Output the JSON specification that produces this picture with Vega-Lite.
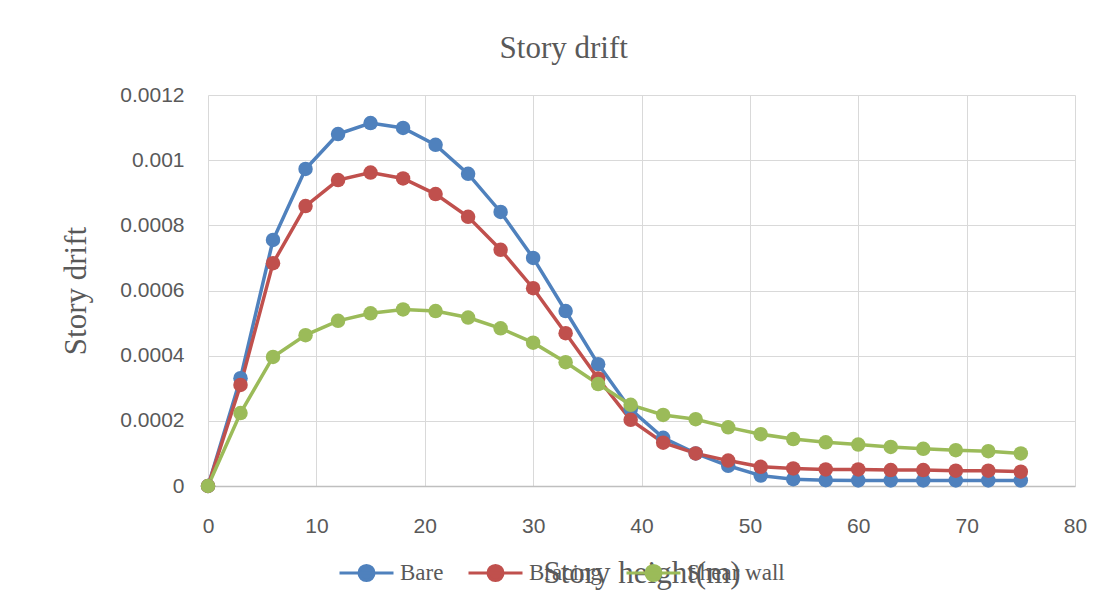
{
  "$schema": "https://vega.github.io/schema/vega-lite/v6.json",
  "width": 867,
  "height": 391,
  "autosize": {"type": "none"},
  "padding": {"left": 208, "top": 95, "right": 29, "bottom": 112},
  "background": "white",
  "title": {"text": "Story drift", "font": "Liberation Serif", "fontSize": 31, "fontWeight": "normal", "color": "#595959", "offset": 19, "anchor": "middle", "frame": "bounds", "dx": -10},
  "data": {"values": [
    {"height": 0, "drift": 0, "series": "Bare"},
    {"height": 3, "drift": 0.000331, "series": "Bare"},
    {"height": 6, "drift": 0.000755, "series": "Bare"},
    {"height": 9, "drift": 0.000973, "series": "Bare"},
    {"height": 12, "drift": 0.00108, "series": "Bare"},
    {"height": 15, "drift": 0.001114, "series": "Bare"},
    {"height": 18, "drift": 0.001099, "series": "Bare"},
    {"height": 21, "drift": 0.001047, "series": "Bare"},
    {"height": 24, "drift": 0.000958, "series": "Bare"},
    {"height": 27, "drift": 0.000841, "series": "Bare"},
    {"height": 30, "drift": 0.0007, "series": "Bare"},
    {"height": 33, "drift": 0.000537, "series": "Bare"},
    {"height": 36, "drift": 0.000374, "series": "Bare"},
    {"height": 39, "drift": 0.000235, "series": "Bare"},
    {"height": 42, "drift": 0.000148, "series": "Bare"},
    {"height": 45, "drift": 0.0001, "series": "Bare"},
    {"height": 48, "drift": 0.000062, "series": "Bare"},
    {"height": 51, "drift": 0.000032, "series": "Bare"},
    {"height": 54, "drift": 0.000021, "series": "Bare"},
    {"height": 57, "drift": 0.000018, "series": "Bare"},
    {"height": 60, "drift": 0.000017, "series": "Bare"},
    {"height": 63, "drift": 0.000017, "series": "Bare"},
    {"height": 66, "drift": 0.000017, "series": "Bare"},
    {"height": 69, "drift": 0.000017, "series": "Bare"},
    {"height": 72, "drift": 0.000017, "series": "Bare"},
    {"height": 75, "drift": 0.000017, "series": "Bare"},
    {"height": 0, "drift": 0, "series": "Bracing"},
    {"height": 3, "drift": 0.00031, "series": "Bracing"},
    {"height": 6, "drift": 0.000684, "series": "Bracing"},
    {"height": 9, "drift": 0.000859, "series": "Bracing"},
    {"height": 12, "drift": 0.000939, "series": "Bracing"},
    {"height": 15, "drift": 0.000962, "series": "Bracing"},
    {"height": 18, "drift": 0.000944, "series": "Bracing"},
    {"height": 21, "drift": 0.000896, "series": "Bracing"},
    {"height": 24, "drift": 0.000826, "series": "Bracing"},
    {"height": 27, "drift": 0.000725, "series": "Bracing"},
    {"height": 30, "drift": 0.000607, "series": "Bracing"},
    {"height": 33, "drift": 0.000469, "series": "Bracing"},
    {"height": 36, "drift": 0.00033, "series": "Bracing"},
    {"height": 39, "drift": 0.000203, "series": "Bracing"},
    {"height": 42, "drift": 0.000133, "series": "Bracing"},
    {"height": 45, "drift": 0.0001, "series": "Bracing"},
    {"height": 48, "drift": 0.000078, "series": "Bracing"},
    {"height": 51, "drift": 0.000059, "series": "Bracing"},
    {"height": 54, "drift": 0.000054, "series": "Bracing"},
    {"height": 57, "drift": 0.000051, "series": "Bracing"},
    {"height": 60, "drift": 0.000051, "series": "Bracing"},
    {"height": 63, "drift": 0.000049, "series": "Bracing"},
    {"height": 66, "drift": 0.000049, "series": "Bracing"},
    {"height": 69, "drift": 0.000047, "series": "Bracing"},
    {"height": 72, "drift": 0.000047, "series": "Bracing"},
    {"height": 75, "drift": 0.000044, "series": "Bracing"},
    {"height": 0, "drift": 0, "series": "Shear wall"},
    {"height": 3, "drift": 0.000224, "series": "Shear wall"},
    {"height": 6, "drift": 0.000396, "series": "Shear wall"},
    {"height": 9, "drift": 0.000463, "series": "Shear wall"},
    {"height": 12, "drift": 0.000507, "series": "Shear wall"},
    {"height": 15, "drift": 0.00053, "series": "Shear wall"},
    {"height": 18, "drift": 0.000542, "series": "Shear wall"},
    {"height": 21, "drift": 0.000537, "series": "Shear wall"},
    {"height": 24, "drift": 0.000517, "series": "Shear wall"},
    {"height": 27, "drift": 0.000484, "series": "Shear wall"},
    {"height": 30, "drift": 0.00044, "series": "Shear wall"},
    {"height": 33, "drift": 0.00038, "series": "Shear wall"},
    {"height": 36, "drift": 0.000313, "series": "Shear wall"},
    {"height": 39, "drift": 0.000249, "series": "Shear wall"},
    {"height": 42, "drift": 0.000218, "series": "Shear wall"},
    {"height": 45, "drift": 0.000205, "series": "Shear wall"},
    {"height": 48, "drift": 0.00018, "series": "Shear wall"},
    {"height": 51, "drift": 0.000159, "series": "Shear wall"},
    {"height": 54, "drift": 0.000144, "series": "Shear wall"},
    {"height": 57, "drift": 0.000134, "series": "Shear wall"},
    {"height": 60, "drift": 0.000127, "series": "Shear wall"},
    {"height": 63, "drift": 0.00012, "series": "Shear wall"},
    {"height": 66, "drift": 0.000114, "series": "Shear wall"},
    {"height": 69, "drift": 0.00011, "series": "Shear wall"},
    {"height": 72, "drift": 0.000107, "series": "Shear wall"},
    {"height": 75, "drift": 0.0001, "series": "Shear wall"}
  ]},
  "mark": {"type": "line", "strokeWidth": 3.5, "point": {"filled": true, "size": 210, "opacity": 1}},
  "encoding": {
    "x": {
      "field": "height", "type": "quantitative",
      "scale": {"domain": [0, 80], "nice": false, "zero": false},
      "axis": {
        "values": [0, 10, 20, 30, 40, 50, 60, 70, 80],
        "title": "Story height(m)",
        "titleFont": "Liberation Serif", "titleFontSize": 31, "titleFontWeight": "normal", "titleColor": "#595959", "titlePadding": 22,
        "labelFont": "Liberation Sans", "labelFontSize": 21, "labelColor": "#595959", "labelPadding": 29, "labelFlush": false,
        "ticks": false, "grid": true, "gridColor": "#D9D9D9", "gridWidth": 1,
        "domain": true, "domainColor": "#BFBFBF", "domainWidth": 1.5
      }
    },
    "y": {
      "field": "drift", "type": "quantitative",
      "scale": {"domain": [0, 0.0012], "nice": false},
      "axis": {
        "values": [0, 0.0002, 0.0004, 0.0006, 0.0008, 0.001, 0.0012],
        "format": ".2~g",
        "title": "Story drift",
        "titleFont": "Liberation Serif", "titleFontSize": 31, "titleFontWeight": "normal", "titleColor": "#595959", "titlePadding": 27,
        "labelFont": "Liberation Sans", "labelFontSize": 21, "labelColor": "#595959", "labelPadding": 24, "labelFlush": false,
        "ticks": false, "grid": true, "gridColor": "#D9D9D9", "gridWidth": 1,
        "domain": false
      }
    },
    "color": {
      "field": "series", "type": "nominal",
      "scale": {"domain": ["Bare", "Bracing", "Shear wall"], "range": ["#4F81BD", "#C0504D", "#9BBB59"]},
      "legend": {
        "title": null,
        "orient": "none",
        "legendX": 130,
        "legendY": 449,
        "direction": "horizontal",
        "symbolType": "M -1 0 L 1 0 M -0.28 0 A 0.28 0.28 0 1 1 0.28 0 A 0.28 0.28 0 1 1 -0.28 0 Z",
        "symbolSize": 2916,
        "symbolStrokeWidth": 3,
        "symbolOpacity": 1,
        "labelFont": "Liberation Serif", "labelFontSize": 23, "labelColor": "#595959",
        "labelOffset": 5,
        "columnPadding": 18,
        "encode": {"symbols": {"update": {"fill": {"scale": "color", "field": "value"}, "stroke": {"scale": "color", "field": "value"}}}}
      }
    }
  },
  "config": {"view": {"stroke": null}}
}
